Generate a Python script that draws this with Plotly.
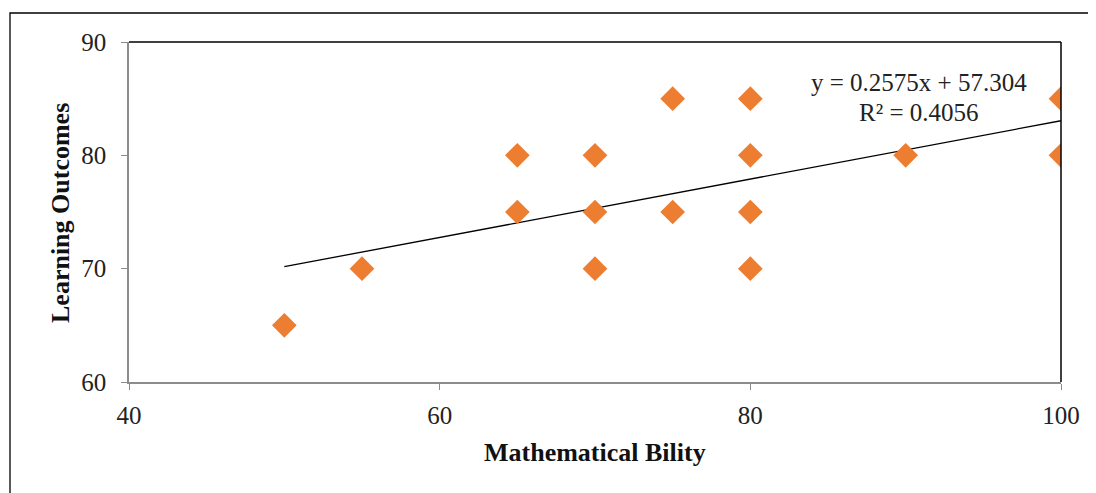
import plotly.graph_objects as go

# Data
math_ability = [50, 55, 65, 65, 70, 70, 70, 75, 75, 80, 80, 80, 80, 90, 100, 100]
learning_outcomes = [65, 70, 80, 75, 80, 75, 70, 85, 75, 85, 80, 75, 70, 80, 85, 80]
slope = 0.2575
intercept = 57.304
r_squared = 0.4056
x_ticks = [40, 60, 80, 100]
y_ticks = [60, 70, 80, 90]

FONT = "Liberation Serif"
FS = 25

# page body has an 8px margin, so the figure is laid out 8px smaller
W, H = 1088, 485
L, R, T, B = 121, 35, 34, 111
PW, PH = W - L - R, H - T - B

trend_x = [min(math_ability), max(math_ability)]
trend_y = [slope * v + intercept for v in trend_x]

fig = go.Figure()
fig.add_trace(go.Scatter(
    x=trend_x, y=trend_y, mode="lines",
    line=dict(color="black", width=1.3), showlegend=False, hoverinfo="skip"))
fig.add_trace(go.Scatter(
    x=math_ability, y=learning_outcomes, mode="markers",
    marker=dict(symbol="diamond", size=19, color="#ED7D31", line=dict(width=0)),
    showlegend=False))

fig.update_layout(
    width=W, height=H,
    margin=dict(l=L, r=R, t=T, b=B),
    paper_bgcolor="white", plot_bgcolor="white",
    font=dict(family=FONT, color="#222", size=FS),
    xaxis=dict(range=[40, 100], tickvals=x_ticks, showgrid=False, zeroline=False,
               showline=True, linecolor="#8c8c8c", linewidth=1.5,
               ticks="outside", ticklen=6, tickcolor="#8c8c8c", tickwidth=1,
               ticklabelstandoff=4,
               tickfont=dict(family=FONT, size=FS, color="#222")),
    yaxis=dict(range=[60, 90], tickvals=y_ticks, showgrid=False, zeroline=False,
               showline=True, linecolor="#8c8c8c", linewidth=1.5,
               ticks="outside", ticklen=6, tickcolor="#8c8c8c", tickwidth=1,
               ticklabelstandoff=10,
               tickfont=dict(family=FONT, size=FS, color="#222")),
)

# Axis titles
fig.add_annotation(xref="paper", yref="paper", x=(587 - L) / PW, y=-(444 - T - PH) / PH,
                   xanchor="center", yanchor="middle",
                   text="<b>Mathematical Bility</b>", showarrow=False,
                   font=dict(family=FONT, size=26, color="#111"))
fig.add_annotation(xref="paper", yref="paper", x=(52 - L) / PW, y=(T + PH - 205) / PH,
                   xanchor="center", yanchor="middle",
                   text="<b>Learning Outcomes</b>", showarrow=False, textangle=-90,
                   font=dict(family=FONT, size=26, color="#111"))

# Top and right plot border (black)
fig.add_shape(type="line", xref="paper", yref="paper", x0=0, x1=1, y0=1, y1=1,
              line=dict(color="black", width=1.5))
fig.add_shape(type="line", xref="paper", yref="paper", x0=1, x1=1, y0=0, y1=1,
              line=dict(color="black", width=1.5))

# Outer chart border (extends past right/bottom edges)
fig.add_shape(type="rect", xref="paper", yref="paper",
              x0=(2 - L) / PW, x1=(W + 20 - L) / PW,
              y0=(T + PH - (H + 20)) / PH, y1=(T + PH - 5) / PH,
              line=dict(color="black", width=1.3), layer="below")

fig.add_annotation(xref="x", yref="y", x=90.89, y=86.47,
                   text=f"y = {slope}x + {intercept}", showarrow=False,
                   font=dict(family=FONT, size=FS, color="#222"))
fig.add_annotation(xref="x", yref="y", x=90.89, y=83.82,
                   text=f"R² = {r_squared}", showarrow=False,
                   font=dict(family=FONT, size=FS, color="#222"))

fig.write_html("out.html")
